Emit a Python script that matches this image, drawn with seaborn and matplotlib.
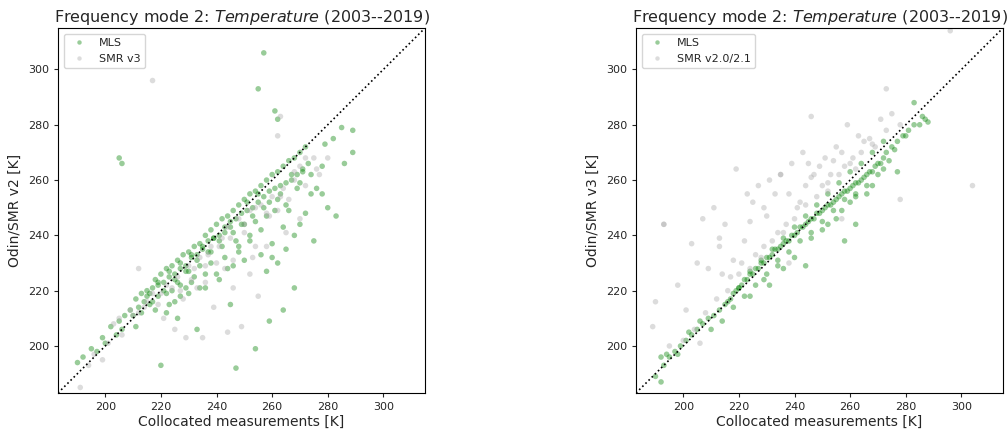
import numpy as np
import pandas as pd
import matplotlib
matplotlib.use('Agg')
import matplotlib.pyplot as plt
import seaborn as sns

# values (approximate subsample of the clouds)
left_mls_x = [190, 192, 195, 197, 199, 200, 202, 204, 205, 206, 207, 209, 210, 211, 212, 213, 214, 215, 216, 217,
              218, 219, 220, 221, 222, 223, 224, 225, 226, 227, 228, 229, 230, 231, 232, 233, 234, 235, 236, 237,
              238, 239, 240, 241, 242, 243, 244, 245, 246, 247, 248, 249, 250, 251, 252, 253, 254, 255, 256, 257,
              258, 259, 260, 261, 262, 263, 264, 265, 266, 267, 268, 269, 270, 271, 272, 273, 274, 276, 278, 280,
              283, 285, 286, 289, 289, 205, 206, 257, 255, 261, 262, 247, 220, 254, 226, 245, 259, 264, 229, 233,
              216, 219, 222, 224, 225, 227, 230, 232, 234, 236, 238, 241, 243, 246, 248, 250, 252, 256, 258, 260,
              262, 265, 268, 270, 275, 279, 282,
              213, 215, 217, 219, 221, 223, 225, 227, 229, 231, 233, 235, 237, 239, 241, 243, 245, 247, 249, 251,
              253, 255, 257, 259, 261, 263, 265, 267, 269, 271, 218, 222, 226, 230, 234, 238, 242, 246, 250, 254,
              258, 262, 266, 270, 274, 278, 244, 248, 252, 256, 260, 264, 268, 272, 240, 236, 231, 227, 223, 211]
left_mls_y = [194, 196, 199, 198, 203, 201, 207, 204, 209, 206, 211, 213, 211, 217, 214, 219, 216, 220, 219, 221,
              224, 222, 226, 223, 228, 225, 229, 226, 231, 228, 233, 229, 234, 232, 236, 233, 237, 235, 240, 238,
              242, 239, 244, 240, 246, 243, 247, 245, 249, 246, 251, 248, 253, 249, 255, 250, 256, 252, 258, 254,
              260, 256, 262, 257, 263, 258, 265, 259, 267, 260, 268, 262, 270, 264, 272, 266, 262, 257, 255, 250,
              247, 279, 266, 278, 270, 268, 266, 306, 293, 285, 282, 192, 193, 199, 210, 215, 209, 213, 221, 206,
              215, 218, 212, 220, 216, 222, 219, 225, 221, 226, 230, 224, 232, 229, 236, 231, 240, 233, 227, 237,
              230, 235, 221, 244, 238, 273, 275,
              212, 218, 216, 223, 220, 227, 224, 230, 227, 233, 231, 236, 234, 239, 238, 241, 243, 238, 244, 252,
              247, 255, 250, 252, 249, 255, 251, 262, 257, 263, 213, 219, 223, 227, 229, 234, 236, 241, 244, 245,
              247, 253, 249, 259, 255, 265, 228, 234, 238, 242, 232, 243, 240, 248, 226, 221, 223, 218, 215, 207]
left_smr_x = [191, 194, 196, 199, 201, 203, 206, 209, 212, 215, 217, 219, 222, 224, 226, 228, 230, 232, 234, 236,
              238, 240, 242, 244, 246, 248, 250, 252, 254, 256, 258, 260, 262, 264, 266, 268, 270, 272, 275, 277,
              217, 263, 262, 244, 249, 225, 235, 255, 265, 239, 229, 252, 258, 246, 270, 212, 221, 237,
              205, 210, 214, 220, 227, 231, 236, 241, 245, 250, 254, 259, 263, 268, 272, 276, 280, 233, 243, 253]
left_smr_y = [185, 193, 197, 195, 201, 208, 204, 213, 212, 216, 219, 215, 222, 221, 225, 217, 229, 228, 232, 223,
              236, 230, 239, 243, 231, 246, 244, 249, 236, 251, 248, 254, 249, 257, 253, 260, 265, 258, 268, 262,
              296, 283, 276, 205, 207, 206, 203, 218, 241, 214, 203, 226, 236, 221, 246, 228, 210, 233,
              210, 211, 214, 219, 220, 224, 229, 236, 239, 241, 250, 247, 254, 263, 268, 264, 268, 221, 228, 232]

right_mls_x = [190, 192, 193, 195, 197, 199, 201, 203, 205, 207, 209, 211, 213, 215, 217, 218, 219, 220, 221, 222,
               223, 224, 225, 226, 227, 228, 229, 230, 231, 232, 233, 234, 235, 236, 237, 238, 239, 240, 241, 242,
               243, 244, 245, 246, 247, 248, 249, 250, 251, 252, 253, 254, 255, 256, 257, 258, 259, 260, 261, 262,
               263, 264, 265, 266, 267, 268, 269, 270, 271, 272, 273, 275, 277, 279, 281, 283, 285, 287, 288, 192,
               277, 262, 258, 244, 231, 236, 250, 255, 260, 266, 224, 229, 234, 240, 246, 252, 257, 262, 268, 272,
               194, 198, 202, 206, 210, 214, 216, 218, 220, 222, 224, 226, 228, 230, 232, 234, 236, 238, 240, 242,
               244, 246, 248, 250, 252, 254, 256, 258, 260, 262, 264, 266, 268, 270, 272, 274, 276, 283, 286, 280]
right_mls_y = [189, 196, 193, 196, 198, 200, 202, 204, 206, 208, 210, 211, 213, 215, 217, 219, 220, 221, 222, 224,
               224, 226, 226, 228, 228, 230, 230, 232, 232, 233, 235, 235, 236, 237, 238, 238, 240, 240, 241, 243,
               243, 244, 245, 246, 246, 248, 248, 249, 250, 251, 251, 252, 253, 254, 255, 256, 256, 257, 258, 259,
               259, 260, 261, 262, 263, 263, 265, 266, 266, 268, 270, 272, 274, 276, 278, 280, 280, 282, 281, 187,
               263, 244, 238, 229, 222, 228, 242, 246, 252, 255, 218, 224, 229, 232, 239, 244, 249, 254, 258, 264,
               197, 197, 205, 209, 206, 209, 216, 214, 221, 218, 227, 222, 231, 226, 235, 231, 239, 234, 243, 238,
               247, 241, 251, 245, 255, 249, 259, 253, 263, 255, 266, 258, 270, 262, 274, 267, 271, 288, 283, 276]
right_smr_x = [189, 190, 193, 195, 198, 201, 203, 205, 207, 209, 211, 213, 215, 217, 219, 221, 223, 225, 227, 229,
               231, 233, 235, 237, 239, 241, 243, 245, 247, 249, 251, 253, 255, 257, 259, 261, 263, 265, 267, 269,
               271, 273, 275, 278, 296, 304, 273, 246, 193, 278, 257, 238, 224, 213, 252, 235, 218, 229, 244, 262,
               200, 204, 208, 212, 216, 220, 224, 228, 232, 236, 240, 244, 248, 252, 256, 260, 264, 268, 206, 214,
               222, 230, 238, 246, 254, 226, 234, 242, 250, 258]
right_smr_y = [207, 216, 244, 200, 222, 213, 237, 230, 246, 228, 250, 236, 244, 225, 264, 230, 255, 252, 258, 236,
               260, 255, 262, 244, 266, 250, 270, 266, 262, 265, 268, 262, 272, 270, 280, 268, 276, 274, 275, 272,
               282, 278, 284, 280, 314, 258, 293, 283, 244, 253, 246, 230, 245, 239, 256, 262, 231, 250, 258, 264,
               202, 206, 212, 217, 220, 226, 228, 232, 238, 241, 246, 251, 254, 259, 262, 266, 270, 273, 201, 226,
               238, 247, 255, 261, 267, 233, 241, 252, 258, 265]


def make_df(x, y, name):
    return pd.DataFrame({'x': x, 'y': y, 'source': name})


panels = [
    (left_mls_x, left_mls_y, left_smr_x, left_smr_y, 'SMR v3', 'Odin/SMR v2 [K]'),
    (right_mls_x, right_mls_y, right_smr_x, right_smr_y, 'SMR v2.0/2.1', 'Odin/SMR v3 [K]'),
]

sns.set_style('white')
plt.rcParams['font.family'] = ['DejaVu Sans']
fig = plt.figure(figsize=(10.07, 4.34), dpi=100)
axes = [fig.add_axes([0.0576, 0.0945, 0.3645, 0.841]),
        fig.add_axes([0.6316, 0.0945, 0.3645, 0.841])]

for ax, (mx, my, sx, sy, smr_name, ylab) in zip(axes, panels):
    df = pd.concat([make_df(mx, my, 'MLS'), make_df(sx, sy, smr_name)])
    sns.scatterplot(data=df, x='x', y='y', hue='source', palette=['green', 'darkgray'],
                    s=16, alpha=0.4, linewidth=0, ax=ax)
    ax.plot([183, 315], [183, 315], 'k:', lw=1.2)
    ax.set_xlim(183, 315)
    ax.set_ylim(183, 315)
    ax.set_xticks([200, 220, 240, 260, 280, 300])
    ax.set_yticks([200, 220, 240, 260, 280, 300])
    ax.tick_params(labelsize=8, direction='out', length=3, left=True, bottom=True)
    for sp in ax.spines.values():
        sp.set_color('black')
    ax.set_xlabel('Collocated measurements [K]', fontsize=10, labelpad=2)
    ax.set_ylabel(ylab, fontsize=10)
    ax.set_title('Frequency mode 2: $\\it{Temperature}$ (2003--2019)', fontsize=11.5, pad=4)
    ax.legend(loc='upper left', fontsize=8, title=None, markerscale=0.8)

fig.savefig('out.png')
